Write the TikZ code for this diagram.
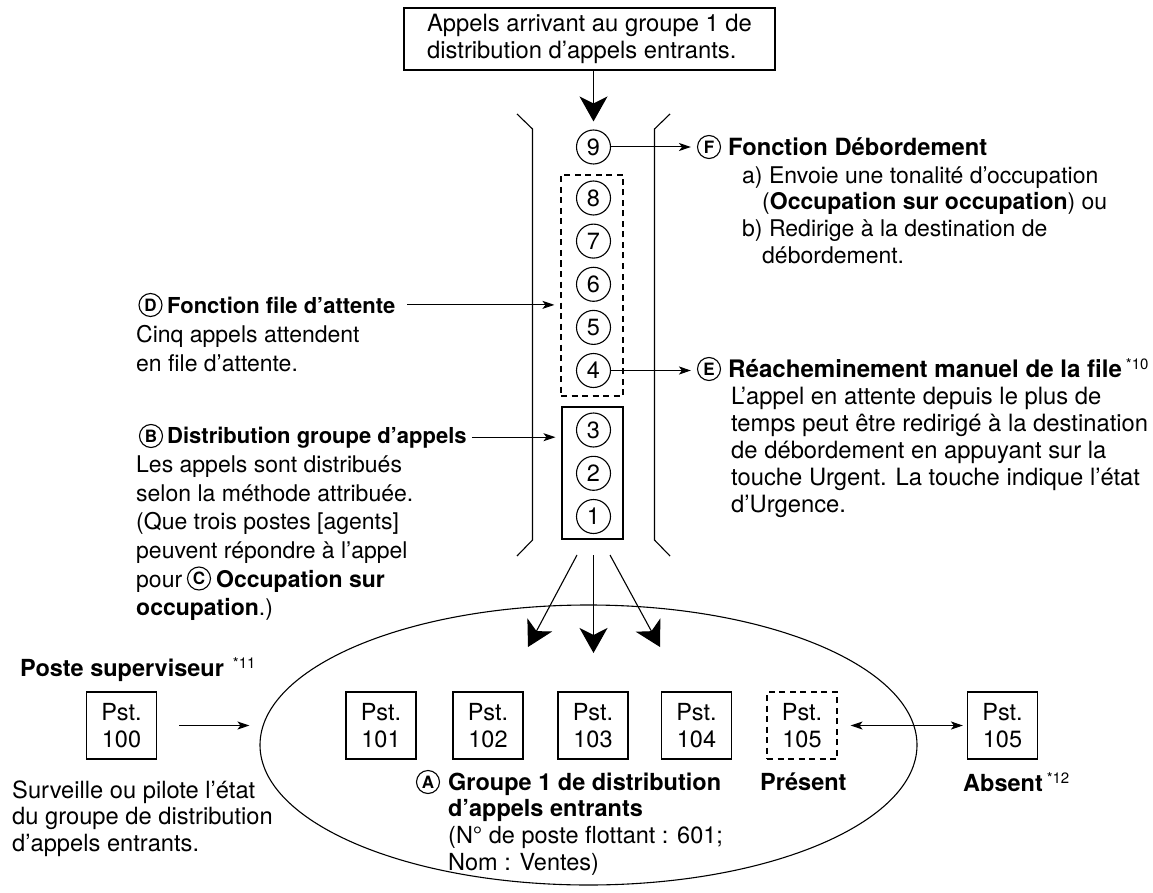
\documentclass[tikz,border=0pt]{standalone}
\usepackage{fontspec}
\setmainfont{TeX Gyre Heros}
\usetikzlibrary{arrows.meta,shapes.geometric,calc}

% small raised footnote mark such as *10
\newcommand\noteref[1]{\raisebox{8pt}{\fontsize{15}{15}\selectfont *#1}}

% multi-line text nodes are anchored on the baseline of their last line
\tikzset{
  txt/.style={inner sep=0pt, anchor=base west, align=left,
              font=\fontsize{23.5}{27}\selectfont},
  txtL/.style={txt, font=\fontsize{23}{28.6}\selectfont},
  callnum/.style={circle, draw, line width=1.1pt, minimum size=34pt,
                  inner sep=0pt, font=\fontsize{23.5}{27}\selectfont},
  tag/.style={circle, draw, line width=1.1pt, minimum size=23pt, inner sep=0pt,
              font=\bfseries\fontsize{17}{17}\selectfont},
  pst/.style={draw, line width=1.1pt, minimum width=70pt, minimum height=67pt,
              inner sep=0pt, align=center, font=\fontsize{23.5}{27}\selectfont},
  bigarrow/.style={line width=1.1pt, -{Stealth[length=25pt,width=28pt,inset=7pt]}},
  smallarrow/.style={line width=1pt, -{Stealth[length=12pt,width=8pt,inset=3pt]}},
  dblarrow/.style={line width=1pt, {Stealth[length=12pt,width=8pt,inset=3pt]}-{Stealth[length=12pt,width=8pt,inset=3pt]}},
  wall/.style={line width=1.1pt}
}

\begin{document}
\begin{tikzpicture}[x=1pt,y=-1pt]
\fill[white] (0,0) rectangle (1153,893);
\useasboundingbox (0,0) rectangle (1153,893);

% incoming calls
\node[draw, line width=1.1pt, minimum width=371pt, minimum height=62pt, align=left,
      inner sep=0pt, font=\fontsize{23.8}{27}\selectfont] (topbox) at (589.5,39)
      {Appels arrivant au groupe 1 de\\distribution d’appels entrants.};

% funnel walls
\draw[wall] (517,114) -- (532.5,129) -- (532.5,540) -- (517,556);
\draw[wall] (670,114) -- (654.5,129) -- (654.5,540) -- (670,556);

% queued calls
\node[callnum] (c9) at (593.5,147) {9};
\node[callnum] (c8) at (593.5,198) {8};
\node[callnum] (c7) at (593.5,241.1) {7};
\node[callnum] (c6) at (593.5,284.3) {6};
\node[callnum] (c5) at (593.5,327.4) {5};
\node[callnum] (c4) at (593.5,370.5) {4};
\node[callnum] (c3) at (593.5,430) {3};
\node[callnum] (c2) at (593.5,473.3) {2};
\node[callnum] (c1) at (593.5,516.5) {1};
\node[draw, dashed, dash pattern=on 6pt off 4.5pt, line width=1.1pt,
      minimum width=62pt, minimum height=221pt, inner sep=0pt] (queue) at (592,285.5) {};
\node[draw, line width=1.1pt, minimum width=61pt, minimum height=132pt,
      inner sep=0pt] (serve) at (592.5,473) {};

\draw[bigarrow, shorten >=8pt] (topbox.south -| c9) -- (c9.north);

% overflow
\node[tag] (fC) at (709,147) {F};
\node[txt, font=\bfseries\fontsize{23.7}{27}\selectfont] (fT) at (728,155.5) {Fonction Débordement};
\node[txt, font=\fontsize{23}{27}\selectfont] (fB) at (742,264) {a) Envoie une tonalité d’occupation\\
  \hspace*{20pt}(\textbf{Occupation sur occupation}) ou\\
  b) Redirige à la destination de\\
  \hspace*{20pt}débordement.};
\draw[smallarrow, shorten >=6pt] (c9.east) -- (fC.west);

% manual queue redirect
\node[tag] (eC) at (709,369) {E};
\node[txt, font=\bfseries\fontsize{24.1}{27}\selectfont] (eT) at (728,377)
  {Réacheminement manuel de la file\,\mdseries\noteref{10}};
\node[txt, font=\fontsize{23.8}{27}\selectfont] (eB) at (731,512) {L’appel en attente depuis le plus de\\
  temps peut être redirigé à la destination\\
  de débordement en appuyant sur la\\
  touche Urgent. La touche indique l’état\\
  d’Urgence.};
\draw[smallarrow, shorten >=6pt] (c4.east) -- (c4.east -| eC.west);

% queueing
\node[tag] (dC) at (150.5,305) {D};
\node[txt, font=\bfseries\fontsize{22}{27}\selectfont] (dT) at (167,313) {Fonction file d’attente};
\node[txtL] (dB) at (136,371.2) {Cinq appels attendent\\en file d’attente.};
\draw[smallarrow, shorten <=12pt, shorten >=6pt] (dT.east) -- (dT.east -| queue.west);

% distribution
\node[tag] (bC) at (151,436) {B};
\node[txt, font=\bfseries\fontsize{22}{27}\selectfont] (bT) at (167,443) {Distribution groupe d’appels};
\node[txtL] (bB) at (136,615.6) {Les appels sont distribués\\
  selon la méthode attribuée.\\
  (Que trois postes [agents]\\
  peuvent répondre à l’appel\\
  pour\hspace*{34pt}\textbf{Occupation sur}\\
  \textbf{occupation}.)};
\node[tag] (cC) at (199,578.5) {C};
\draw[smallarrow, shorten <=5pt, shorten >=6pt] (bT.east) -- (bT.east -| serve.west);

% agent group
\node[ellipse, draw, line width=1.1pt, minimum width=657pt, minimum height=280pt,
      inner sep=0pt] (grp) at (588.5,745) {};
\coordinate (sL) at (577,555);
\coordinate (sM) at (593.5,555);
\coordinate (sR) at (610,555);
\coordinate (tL) at (528,647);
\coordinate (tM) at (593.5,653);
\coordinate (tR) at (660,647);
\draw[bigarrow] (sL) -- (tL);
\draw[bigarrow] (sM) -- (tM);
\draw[bigarrow] (sR) -- (tR);

\node[pst] (p101) at (381,725.5) {Pst.\\101};
\node[pst] (p102) at (488,725.5) {Pst.\\102};
\node[pst] (p103) at (593,725.5) {Pst.\\103};
\node[pst] (p104) at (696.5,725.5) {Pst.\\104};
\node[pst, dashed, dash pattern=on 6pt off 4.5pt] (p105) at (802,725.5) {Pst.\\105};
\node[pst] (p105b) at (1002.5,725.5) {Pst.\\105};
\draw[dblarrow, shorten <=13pt, shorten >=4pt] (p105.east) -- (p105b.west);

\node[tag] (aC) at (428,782) {A};
\node[txt, font=\fontsize{23.5}{26.7}\selectfont] (aT) at (448,870.1)
  {\textbf{Groupe 1 de distribution}\\
   \textbf{d’appels entrants}\\
   (N° de poste flottant : 601;\\
   Nom : Ventes)};
\node[txt, font=\bfseries\fontsize{23.5}{27}\selectfont] (present) at (760,790) {Présent};
\node[txt, font=\bfseries\fontsize{23.5}{27}\selectfont] (absent) at (963,791)
  {Absent\,\mdseries\noteref{12}};

% supervisor
\node[txt, font=\bfseries\fontsize{23.5}{27}\selectfont] (supT) at (20,676)
  {Poste superviseur\hspace*{9pt}\mdseries\noteref{11}};
\node[pst] (p100) at (121.5,725.5) {Pst.\\100};
\node[txt, font=\fontsize{23.7}{26.5}\selectfont] (supB) at (12,851)
  {Surveille ou pilote l’état\\du groupe de distribution\\d’appels entrants.};
\draw[smallarrow, shorten <=22pt, shorten >=10pt] (p100.east) -- (p100.east -| grp.west);
\end{tikzpicture}
\end{document}
